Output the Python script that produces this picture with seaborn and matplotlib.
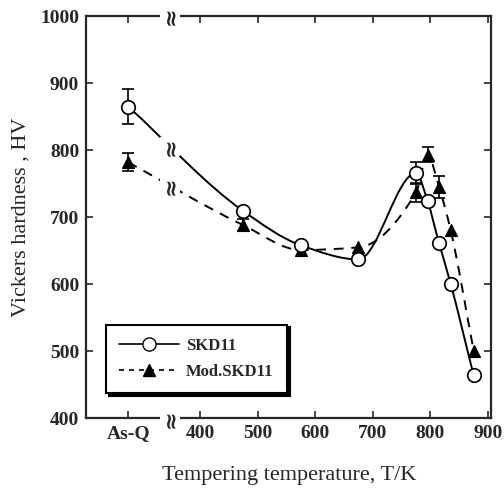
import numpy as np
import matplotlib.pyplot as plt
import seaborn as sns
from matplotlib.path import Path
from matplotlib.patches import PathPatch
from matplotlib.lines import Line2D

sns.set_style('ticks')
plt.rcParams['font.family'] = ['Liberation Serif', 'DejaVu Serif']

# "As-Q" (as-quenched) sits at a pseudo-position left of the axis break
ASQ_POS = 275
BREAK_POS = 348

temps = [ASQ_POS, 475, 575, 675, 775, 795, 815, 835, 875]
hv_skd11 = [865, 709, 658, 637, 766, 724, 661, 601, 464]
hv_mod = [782, 688, 651, 655, 737, 793, 745, 681, 501]

# visible error bars only (index -> half width)
err_skd11 = {0: 26, 4: 16}
err_mod = {0: 13, 1: 9, 4: 14, 5: 11, 6: 16}

xticks = [ASQ_POS, 400, 500, 600, 700, 800, 900]
xticklabels = ['As-Q', '400', '500', '600', '700', '800', '900']
yticks = [400, 500, 600, 700, 800, 900, 1000]


def pchip_tangents(x, y):
    x = np.asarray(x, float)
    y = np.asarray(y, float)
    h = np.diff(x)
    d = np.diff(y) / h
    m = np.zeros_like(y)
    m[0], m[-1] = d[0], d[-1]
    for k in range(1, len(x) - 1):
        if d[k - 1] * d[k] > 0:
            w1 = 2 * h[k] + h[k - 1]
            w2 = h[k] + 2 * h[k - 1]
            m[k] = (w1 + w2) / (w1 / d[k - 1] + w2 / d[k])
    return m


def smooth_path(x, y):
    m = pchip_tangents(x, y)
    verts = [(x[0], y[0])]
    codes = [Path.MOVETO]
    for i in range(len(x) - 1):
        h = x[i + 1] - x[i]
        verts += [(x[i] + h / 3, y[i] + m[i] * h / 3),
                  (x[i + 1] - h / 3, y[i + 1] - m[i + 1] * h / 3),
                  (x[i + 1], y[i + 1])]
        codes += [Path.CURVE4] * 3
    return Path(verts, codes)


def value_at(x, y, xq):
    m = pchip_tangents(x, y)
    i = np.searchsorted(x, xq) - 1
    h = x[i + 1] - x[i]
    t = (xq - x[i]) / h
    h00 = 2 * t**3 - 3 * t**2 + 1
    h10 = t**3 - 2 * t**2 + t
    h01 = -2 * t**3 + 3 * t**2
    h11 = t**3 - t**2
    return h00 * y[i] + h10 * h * m[i] + h01 * y[i + 1] + h11 * h * m[i + 1]


fig = plt.figure(figsize=(5.04, 4.88), dpi=100)
ax = fig.add_axes([0.171, 0.143, 0.803, 0.824])

ax.add_patch(PathPatch(smooth_path(temps, hv_skd11), facecolor='none',
                       edgecolor='black', lw=1.4, zorder=2))
ax.add_patch(PathPatch(smooth_path(temps, hv_mod), facecolor='none',
                       edgecolor='black', lw=1.4, ls=(0, (5, 4)), zorder=2))

for vals, errs in ((hv_skd11, err_skd11), (hv_mod, err_mod)):
    idx = list(errs)
    ax.errorbar([temps[i] for i in idx], [vals[i] for i in idx],
                yerr=[errs[i] for i in idx], fmt='none', ecolor='black',
                elinewidth=1.2, capsize=4.5, capthick=1.2, zorder=3)

sns.scatterplot(x=temps, y=hv_mod, marker='^', s=75, color='black',
                edgecolor='black', linewidth=0.8, ax=ax, zorder=4)
sns.scatterplot(x=temps, y=hv_skd11, marker='o', s=95, facecolor='white',
                edgecolor='black', linewidth=1.2, ax=ax, zorder=5)

# break marks on curves and spines
brk = dict(rotation=90, ha='center', va='center', fontsize=16,
           fontweight='bold', zorder=6, family='DejaVu Sans',
           bbox=dict(facecolor='white', edgecolor='none', pad=0.2))
for vals in (hv_skd11, hv_mod):
    yb = value_at(np.array(temps, float), np.array(vals, float), BREAK_POS)
    ax.text(BREAK_POS, yb, '\u2248', **brk)
for yb in (400, 1000):
    ax.text(BREAK_POS, yb, '\u2248', clip_on=False, **brk)

ax.set_xlim(202, 905)
ax.set_ylim(400, 1000)
ax.set_xticks(xticks)
ax.set_xticklabels(xticklabels)
ax.set_yticks(yticks)
ax.tick_params(direction='in', top=True, right=True, length=5, width=1.2,
               labelsize=14, pad=5)
for lab in ax.get_xticklabels() + ax.get_yticklabels():
    lab.set_fontweight('bold')
for sp in ax.spines.values():
    sp.set_linewidth(1.6)
    sp.set_visible(True)

ax.set_xlabel('')
fig.text(0.573, 0.016, 'Tempering temperature, T/K', fontsize=16,
         ha='center', va='baseline')
ax.set_ylabel('Vickers hardness , HV', fontsize=16, labelpad=7)

handles = [Line2D([], [], color='black', lw=1.2, marker='o', markersize=9.5,
                  markerfacecolor='white', markeredgecolor='black'),
           Line2D([], [], color='black', lw=1.2, ls=(0, (3, 3)), marker='^',
                  markersize=8.5, markerfacecolor='black')]
leg = ax.legend(handles, ['SKD11', 'Mod.SKD11'], loc='lower left',
                bbox_to_anchor=(0.049, 0.062), borderaxespad=0,
                handlelength=3.6, handletextpad=0.4, fancybox=False,
                frameon=True, shadow={'color': 'black', 'alpha': 1},
                prop={'weight': 'bold', 'size': 12}, edgecolor='black',
                framealpha=1, borderpad=0.8, labelspacing=0.6)
leg.get_frame().set_linewidth(1.5)

fig.savefig('out.png', dpi=100)
